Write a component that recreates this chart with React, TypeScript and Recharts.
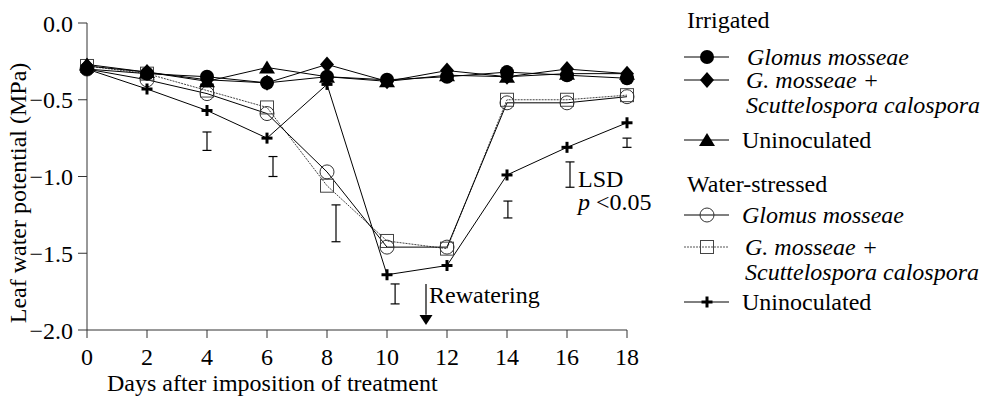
import React from 'react';
import {
  ComposedChart,
  Line,
  XAxis,
  YAxis,
  Scatter,
  ErrorBar,
  ReferenceLine,
  ReferenceDot,
  Customized,
  Label,
} from 'recharts';

// ---------------- data ----------------
const days = [0, 2, 4, 6, 8, 10, 12, 14, 16, 18];

const irrGlomus = [-0.30, -0.33, -0.35, -0.39, -0.35, -0.37, -0.35, -0.32, -0.34, -0.36];
const irrMixed = [-0.28, -0.32, -0.37, -0.39, -0.27, -0.38, -0.31, -0.35, -0.30, -0.33];
const irrUnin = [-0.27, -0.32, -0.38, -0.29, -0.35, -0.38, -0.34, -0.35, -0.33, -0.33];
const wsGlomus = [-0.30, -0.37, -0.46, -0.59, -0.97, -1.46, -1.46, -0.52, -0.52, -0.48];
const wsMixed = [-0.28, -0.33, -0.44, -0.55, -1.06, -1.42, -1.47, -0.50, -0.50, -0.47];
const wsUnin = [-0.30, -0.43, -0.57, -0.75, -0.40, -1.64, -1.58, -0.99, -0.81, -0.65];

const xTicks = [0, 2, 4, 6, 8, 10, 12, 14, 16, 18];
const yTicks = [-2, -1.5, -1, -0.5, 0];

// LSD bars (p < 0.05)
const lsdDays = [4.0, 6.2, 8.3, 10.27, 14.03, 18.0, 16.1];
const lsdTop = [-0.71, -0.87, -1.185, -1.70, -1.16, -0.75, -0.905];
const lsdBottom = [-0.83, -1.0, -1.425, -1.83, -1.27, -0.81, -1.07];
const lsdKeyDay = 16.1;
const lsdKeyTop = -0.905;

// rewatering arrow
const rewaterDay = 11.3;
const rewaterStart = -1.70;
const rewaterEnd = -1.90;
const rewaterHead = -1.935;

const xTitle = 'Days after imposition of treatment';
const yTitle = 'Leaf water potential (MPa)';

type MarkerKind = 'filledCircle' | 'diamond' | 'triangle' | 'openCircle' | 'openSquare' | 'plus';

const seriesList: { key: string; values: number[]; marker: MarkerKind; dashed: boolean }[] = [
  { key: 'wsMixed', values: wsMixed, marker: 'openSquare', dashed: true },
  { key: 'wsGlomus', values: wsGlomus, marker: 'openCircle', dashed: false },
  { key: 'wsUnin', values: wsUnin, marker: 'plus', dashed: false },
  { key: 'irrUnin', values: irrUnin, marker: 'triangle', dashed: false },
  { key: 'irrMixed', values: irrMixed, marker: 'diamond', dashed: false },
  { key: 'irrGlomus', values: irrGlomus, marker: 'filledCircle', dashed: false },
];

const legendGroups: {
  title: string;
  items: { marker: MarkerKind; dashed: boolean; lines: string[]; italic: boolean }[];
}[] = [
  {
    title: 'Irrigated',
    items: [
      { marker: 'filledCircle', dashed: false, lines: ['Glomus mosseae'], italic: true },
      { marker: 'diamond', dashed: false, lines: ['G. mosseae +', 'Scuttelospora calospora'], italic: true },
      { marker: 'triangle', dashed: false, lines: ['Uninoculated'], italic: false },
    ],
  },
  {
    title: 'Water-stressed',
    items: [
      { marker: 'openCircle', dashed: false, lines: ['Glomus mosseae'], italic: true },
      { marker: 'openSquare', dashed: true, lines: ['G. mosseae +', 'Scuttelospora calospora'], italic: true },
      { marker: 'plus', dashed: false, lines: ['Uninoculated'], italic: false },
    ],
  },
];

// table built from the arrays
const rows = days.map((d, i) => {
  const r: Record<string, number> = { day: d };
  seriesList.forEach((s) => {
    r[s.key] = s.values[i];
  });
  return r;
});

const lsdData = lsdDays.map((d, i) => ({
  day: d,
  mid: (lsdTop[i] + lsdBottom[i]) / 2,
  half: (lsdTop[i] - lsdBottom[i]) / 2,
}));

// ---------------- styles ----------------
const FONT = '"Liberation Serif", "Times New Roman", Times, serif';
const FS = 24;
const AXIS = '#333';

function Marker({ kind, cx, cy }: { kind: MarkerKind; cx: number; cy: number }) {
  switch (kind) {
    case 'filledCircle':
      return <circle cx={cx} cy={cy} r={7} fill="#000" />;
    case 'diamond':
      return (
        <polygon
          points={`${cx},${cy - 8} ${cx + 7},${cy} ${cx},${cy + 8} ${cx - 7},${cy}`}
          fill="#000"
        />
      );
    case 'triangle':
      return (
        <polygon points={`${cx},${cy - 7} ${cx + 8},${cy + 6} ${cx - 8},${cy + 6}`} fill="#000" />
      );
    case 'openCircle':
      return <circle cx={cx} cy={cy} r={7} fill="none" stroke="#333" strokeWidth={1} />;
    case 'openSquare':
      return (
        <rect x={cx - 6.5} y={cy - 6.5} width={13} height={13} fill="none" stroke="#444" strokeWidth={1} />
      );
    case 'plus':
    default:
      return (
        <g stroke="#000" strokeWidth={3}>
          <line x1={cx - 5.5} x2={cx + 5.5} y1={cy} y2={cy} />
          <line x1={cx} x2={cx} y1={cy - 5.5} y2={cy + 5.5} />
        </g>
      );
  }
}

const fmtY = (v: number) => (v < 0 ? '\u2212' : '') + Math.abs(v).toFixed(1);

const XTitle = (props: any) => {
  const vb = props.viewBox || { x: 87, y: 330 };
  return (
    <text x={vb.x + 20} y={vb.y + 61} fontFamily={FONT} fontSize={FS} fill="#000" textAnchor="start">
      {xTitle}
    </text>
  );
};

const YTitle = (props: any) => {
  const vb = props.viewBox || { x: 0, y: 23 };
  const cx = vb.x + 26;
  const cy = vb.y + 170;
  return (
    <text
      x={cx}
      y={cy}
      transform={`rotate(-90, ${cx}, ${cy})`}
      fontFamily={FONT}
      fontSize={FS}
      fill="#000"
      textAnchor="middle"
    >
      {yTitle}
    </text>
  );
};

const LegendBlock = () => {
  const groupTitleY = [28, 192];
  const itemBase = [
    [65, 88, 148],
    [223, 255, 310],
  ];
  const textX = [
    [747, 746, 742],
    [742, 745, 742],
  ];
  const titleX = 687;
  const lineX1 = 684;
  const lineX2 = 729;
  const markX = 707;
  return (
    <g fontFamily={FONT} fontSize={FS} fill="#000">
      {legendGroups.map((g, gi) => (
        <g key={g.title}>
          <text x={titleX} y={groupTitleY[gi]}>
            {g.title}
          </text>
          {g.items.map((it, ii) => {
            const base = itemBase[gi][ii];
            const ly = base - 8;
            return (
              <g key={ii}>
                <line
                  x1={lineX1}
                  x2={lineX2}
                  y1={ly}
                  y2={ly}
                  stroke={it.dashed ? '#555' : '#000'}
                  strokeWidth={1}
                  strokeDasharray={it.dashed ? '2 1' : undefined}
                />
                <Marker kind={it.marker} cx={markX} cy={ly} />
                {it.lines.map((t, li) => (
                  <text
                    key={li}
                    x={textX[gi][ii]}
                    y={base + li * 25}
                    fontStyle={it.italic ? 'italic' : 'normal'}
                  >
                    {t}
                  </text>
                ))}
              </g>
            );
          })}
        </g>
      ))}
    </g>
  );
};

export default function App() {
  return (
    <div style={{ position: 'absolute', left: 0, top: 0, width: 981, height: 396, background: '#fff' }}>
      <ComposedChart
        width={981}
        height={396}
        data={rows}
        margin={{ top: 23, right: 354, bottom: 0, left: 0 }}
      >
        <XAxis
          dataKey="day"
          type="number"
          domain={[0, 18]}
          ticks={xTicks}
          interval={0}
          height={66}
          tickSize={8}
          tickMargin={10}
          stroke={AXIS}
          tick={{ fill: '#000', fontFamily: FONT, fontSize: FS }}
          label={<Label content={XTitle} />}
        />
        <YAxis
          type="number"
          domain={[-2, 0]}
          ticks={yTicks}
          interval={0}
          width={87}
          tickSize={9}
          tickMargin={5}
          stroke={AXIS}
          tickFormatter={fmtY}
          tick={{ fill: '#000', fontFamily: FONT, fontSize: FS }}
          label={<Label content={YTitle} />}
        />

        {seriesList.map((s) => (
          <Line
            key={s.key}
            dataKey={s.key}
            type="linear"
            stroke={s.dashed ? '#444' : '#000'}
            strokeWidth={1}
            strokeDasharray={s.dashed ? '2 1' : undefined}
            isAnimationActive={false}
            activeDot={false}
            dot={(p: any) => (
              <Marker key={`${s.key}-${p.index}`} kind={s.marker} cx={p.cx} cy={p.cy} />
            )}
          />
        ))}

        <Scatter
          data={lsdData}
          dataKey="mid"
          isAnimationActive={false}
          shape={() => <g />}
        >
          <ErrorBar dataKey="half" direction="y" width={4.5} stroke="#000" strokeWidth={1.2} />
        </Scatter>

        <ReferenceLine
          segment={[
            { x: rewaterDay, y: rewaterStart },
            { x: rewaterDay, y: rewaterEnd },
          ]}
          stroke="#000"
          strokeWidth={1.2}
        />
        <ReferenceDot
          x={rewaterDay}
          y={rewaterHead}
          r={5}
          shape={(p: any) => (
            <polygon
              points={`${p.cx - 6.5},${p.cy - 5} ${p.cx + 6.5},${p.cy - 5} ${p.cx},${p.cy + 5}`}
              fill="#000"
            />
          )}
        />
        <ReferenceDot
          x={rewaterDay}
          y={rewaterStart}
          r={1}
          shape={(p: any) => (
            <text x={p.cx + 3} y={p.cy + 19} fontFamily={FONT} fontSize={FS} fill="#000">
              Rewatering
            </text>
          )}
        />
        <ReferenceDot
          x={lsdKeyDay}
          y={lsdKeyTop}
          r={1}
          shape={(p: any) => (
            <g fontFamily={FONT} fontSize={FS} fill="#000">
              <text x={p.cx + 8} y={p.cy + 25}>LSD</text>
              <text x={p.cx + 8} y={p.cy + 48}>
                <tspan fontStyle="italic">p</tspan>
                <tspan> &lt;0.05</tspan>
              </text>
            </g>
          )}
        />
        <Customized component={LegendBlock} />
      </ComposedChart>
    </div>
  );
}
